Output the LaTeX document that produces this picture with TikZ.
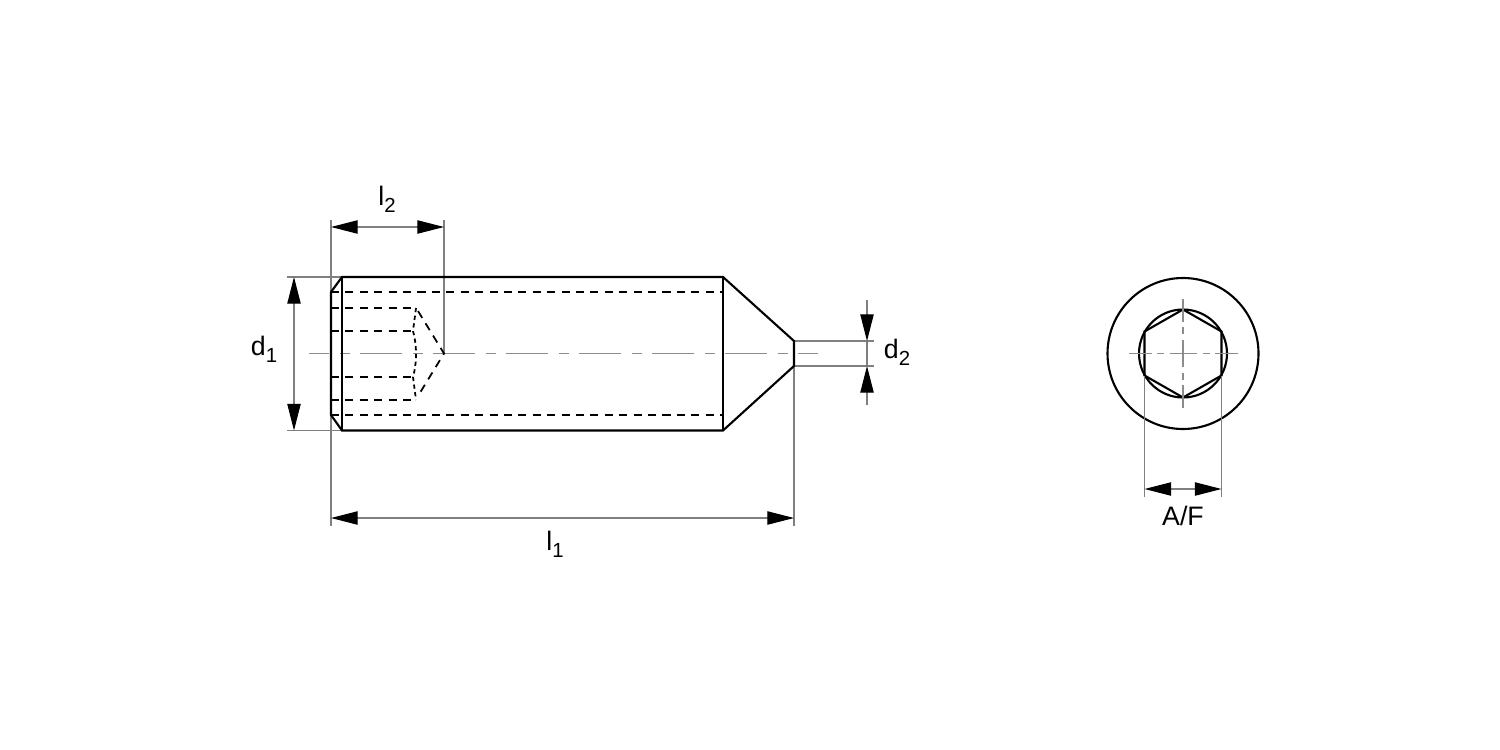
\documentclass[tikz,border=0pt]{standalone}
\usepackage{fontspec}
\setmainfont{Liberation Sans}
\usetikzlibrary{arrows.meta}
\newcommand{\subnum}[1]{\raisebox{-2pt}{\fontsize{5.8}{6}\selectfont #1}}
\tikzset{every node/.style={inner sep=0pt,anchor=base,font=\fontsize{7.6}{8}\selectfont}}
\tikzset{outline/.style={line width=0.6pt,black}}
\tikzset{hidden/.style={line width=0.5pt,black,dash pattern=on 2.3pt off 1.8pt}}
\tikzset{dotted curve/.style={line width=0.5pt,black,dash pattern=on 1.2pt off 1pt}}
\tikzset{thin line/.style={line width=0.32pt,black!50}}
\tikzset{dim/.style={line width=0.32pt,black!50,{Triangle[length=7.6pt,width=3.8pt,black]}-{Triangle[length=7.6pt,width=3.8pt,black]}}}
\tikzset{axis/.style={line width=0.32pt,black!45,dash pattern=on 11.95pt off 3.13pt on 2.85pt off 2.85pt,dash phase=6.2pt}}
\tikzset{cross/.style={line width=0.32pt,black!45,dash pattern=on 6.6pt off 1.4pt on 2pt off 1.7pt on 7.7pt off 1.7pt on 2pt off 1.4pt on 6.6pt off 9pt}}

\begin{document}
\begin{tikzpicture}[x=0.1mm,y=-0.1mm]
      \useasboundingbox (0,0) rectangle (1500,750);
      % extension lines
      \coordinate (l2l) at (331,227);
      \coordinate (l2r) at (444,227);
      \coordinate (l1l) at (331,518);
      \coordinate (l1r) at (794,518);
      \coordinate (d1t) at (294,277);
      \coordinate (d1b) at (294,430.5);
      \draw[thin line] (331,220) -- (331,526);
      \draw[thin line] (444,220) -- (444,353.5);
      \draw[thin line] (794,366) -- (794,526);
      \foreach \y in {277,430.5}
        \draw[thin line] (287,\y) -- (342,\y);
      \foreach \y in {341,366}
        \draw[thin line] (794,\y) -- (874,\y);
      \draw[axis] (309,353.5) -- (818,353.5);
      % screw body, side view
      \draw[outline] (342,277) -- (723,277) -- (794,341) -- (794,366) -- (723,430.5) -- (342,430.5) -- (331,415) -- (331,292) -- cycle;
      \draw[outline] (342,277) -- (342,430.5);
      \draw[outline] (723,277) -- (723,430.5);
      % hidden lines
      \foreach \y in {292,415}
        \draw[hidden] (331,\y) -- (723,\y);
      \foreach \y in {308,400}
        \draw[hidden] (331,\y) -- (416,\y);
      \foreach \y in {331,377}
        \draw[hidden] (331,\y) -- (413,\y);
      \draw[hidden] (418,311) -- (444,353.5) -- (418,396);
      \draw[dotted curve] (416,308) -- (413,331) .. controls (417,345) and (417,363) .. (413,377) -- (416,400);
      % dimensions
      \draw[dim] (l2l) -- (l2r);
      \draw[dim] (l1l) -- (l1r);
      \draw[dim] (d1t) -- (d1b);
      \draw[thin line,-{Triangle[length=7.6pt,width=3.8pt,black]}] (867,300) -- (867,341);
      \draw[thin line,-{Triangle[length=7.6pt,width=3.8pt,black]}] (867,405) -- (867,366);
      \draw[thin line] (867,341) -- (867,366);
      \node (l2) at (387,205) {l\subnum{2}};
      \node (l1) at (555,550) {l\subnum{1}};
      \node (d1) at (264,355) {d\subnum{1}};
      \node (d2) at (897,358.5) {d\subnum{2}};
      % end view
      \draw[outline] (1183,353.5) circle (75.5);
      \draw[outline] (1183,353.5) circle (44);
      \draw[outline] (1183,309.5) -- (1221.5,331.5) -- (1221.5,375.5) -- (1183,397.5) -- (1144.5,375.5) -- (1144.5,331.5) -- cycle;
      \draw[cross] (1129,353.5) -- (1238,353.5);
      \draw[cross] (1183,299) -- (1183,408);
      \foreach \x in {1144.5,1221.5}
        \draw[thin line] (\x,375.5) -- (\x,497);
      \coordinate (afl) at (1144.5,489);
      \coordinate (afr) at (1221.5,489);
      \draw[dim] (afl) -- (afr);
      \node (af) at (1183,525) {A/F};
    \end{tikzpicture}
\end{document}
